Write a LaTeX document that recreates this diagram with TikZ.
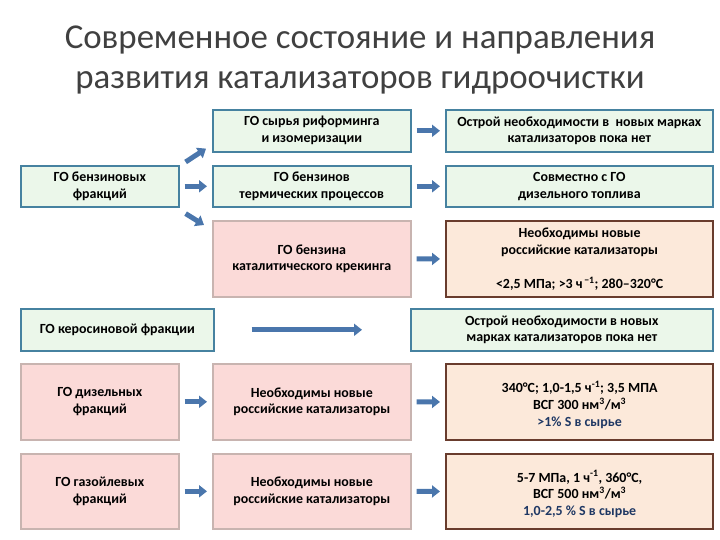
\documentclass[tikz,border=0pt]{standalone}
\usepackage{fontspec}
\setmainfont{Carlito}
\usepackage{xcolor}
\usetikzlibrary{arrows.meta,positioning}

\definecolor{titlegray}{RGB}{64,64,64}
\definecolor{greenfill}{RGB}{235,247,234}
\definecolor{greenline}{RGB}{70,130,160}
\definecolor{pinkfill}{RGB}{251,218,216}
\definecolor{pinkline}{RGB}{200,180,176}
\definecolor{peachfill}{RGB}{252,233,218}
\definecolor{brownline}{RGB}{105,60,45}
\definecolor{arrowblue}{RGB}{74,118,172}
\definecolor{darkblue}{RGB}{31,56,100}

\begin{document}
\begin{tikzpicture}[x=1bp, y=-1bp,
  every node/.style={font=\fontsize{14}{17}\selectfont\bfseries, align=center, inner sep=2pt},
  box/.style={draw, anchor=north west, line width=1.6bp},
  gbox/.style={box, draw=greenline, fill=greenfill},
  pbox/.style={box, draw=pinkline, fill=pinkfill},
  obox/.style={box, draw=brownline, fill=peachfill, line width=2.2bp},
  go/.style={-{Triangle[width=12bp,length=8bp]}, line width=5bp, draw=arrowblue, shorten <=5bp, shorten >=5bp}
]
\useasboundingbox (0,0) rectangle (720,540);

\node[font=\fontsize{35}{40}\selectfont, text=titlegray] (title) at (360,60)
  {Современное состояние и направления\\развития катализаторов гидроочистки};

% бензины
\node[gbox, minimum width=158bp, minimum height=41bp] (benz) at (20,165) {ГО бензиновых\\фракций};
\node[gbox, minimum width=198bp, minimum height=42bp] (reform) at (212,109) {ГО сырья риформинга\\и изомеризации};
\node[gbox, minimum width=198bp, minimum height=41bp] (therm) at (212,165) {ГО бензинов\\термических процессов};
\node[pbox, minimum width=198bp, minimum height=76bp] (crack) at (212,220) {ГО бензина\\каталитического крекинга};
\node[gbox, minimum width=267bp, minimum height=42bp] (reformR) at (445,109) {Острой необходимости в~~новых марках\\катализаторов пока нет};
\node[gbox, minimum width=267bp, minimum height=41bp] (thermR) at (445,165) {Совместно с ГО\\дизельного топлива};
\node[obox, minimum width=267bp, minimum height=76bp] (crackR) at (445,220)
  {Необходимы новые\\российские катализаторы\\[17bp]<2,5 МПа; >3 ч\textsuperscript{\,−1}; 280–320°C};

% керосин
\node[gbox, minimum width=193bp, minimum height=42bp] (kero) at (20,308) {ГО керосиновой фракции};
\node[gbox, minimum width=302bp, minimum height=42bp] (keroR) at (410,308) {Острой необходимости в новых\\марках катализаторов пока нет};

% дизель и газойль
\node[pbox, minimum width=158bp, minimum height=76bp] (dies) at (20,363) {ГО дизельных\\фракций};
\node[pbox, minimum width=198bp, minimum height=76bp] (diesM) at (212,363) {Необходимы новые\\российские катализаторы};
\node[obox, minimum width=267bp, minimum height=76bp] (diesR) at (445,363)
  {\mbox{}\\340°C; 1,0-1,5 ч\textsuperscript{-1}; 3,5 МПА\\ВСГ 300 нм\textsuperscript{3}/м\textsuperscript{3}\\\textcolor{darkblue}{>1\% S в сырье}};
\node[pbox, minimum width=158bp, minimum height=75bp] (gas) at (20,453) {ГО газойлевых\\фракций};
\node[pbox, minimum width=198bp, minimum height=75bp] (gasM) at (212,453) {Необходимы новые\\российские катализаторы};
\node[obox, minimum width=267bp, minimum height=75bp] (gasR) at (445,453)
  {\mbox{}\\5-7 МПа, 1 ч\textsuperscript{-1}, 360°C,\\ВСГ 500 нм\textsuperscript{3}/м\textsuperscript{3}\\\textcolor{darkblue}{1,0-2,5 \% S в сырье}};

\draw[go, shorten <=0bp, shorten >=0bp] ([shift={(6,-3)}]benz.north east) -- ([shift={(-6,-4)}]reform.south west);
\draw[go] (benz) -- (therm);
\draw[go, shorten <=0bp, shorten >=0bp] ([shift={(6,6)}]benz.south east) -- ([shift={(-8,5)}]crack.north west);
\draw[go] (reform) -- (reformR);
\draw[go] (therm) -- (thermR);
\draw[go] (crack) -- (crackR);
\draw[go, shorten <=37bp, shorten >=48bp] (kero) -- (keroR);
\draw[go] (dies) -- (diesM);
\draw[go] (diesM) -- (diesR);
\draw[go] (gas) -- (gasM);
\draw[go] (gasM) -- (gasR);
\end{tikzpicture}
\end{document}
